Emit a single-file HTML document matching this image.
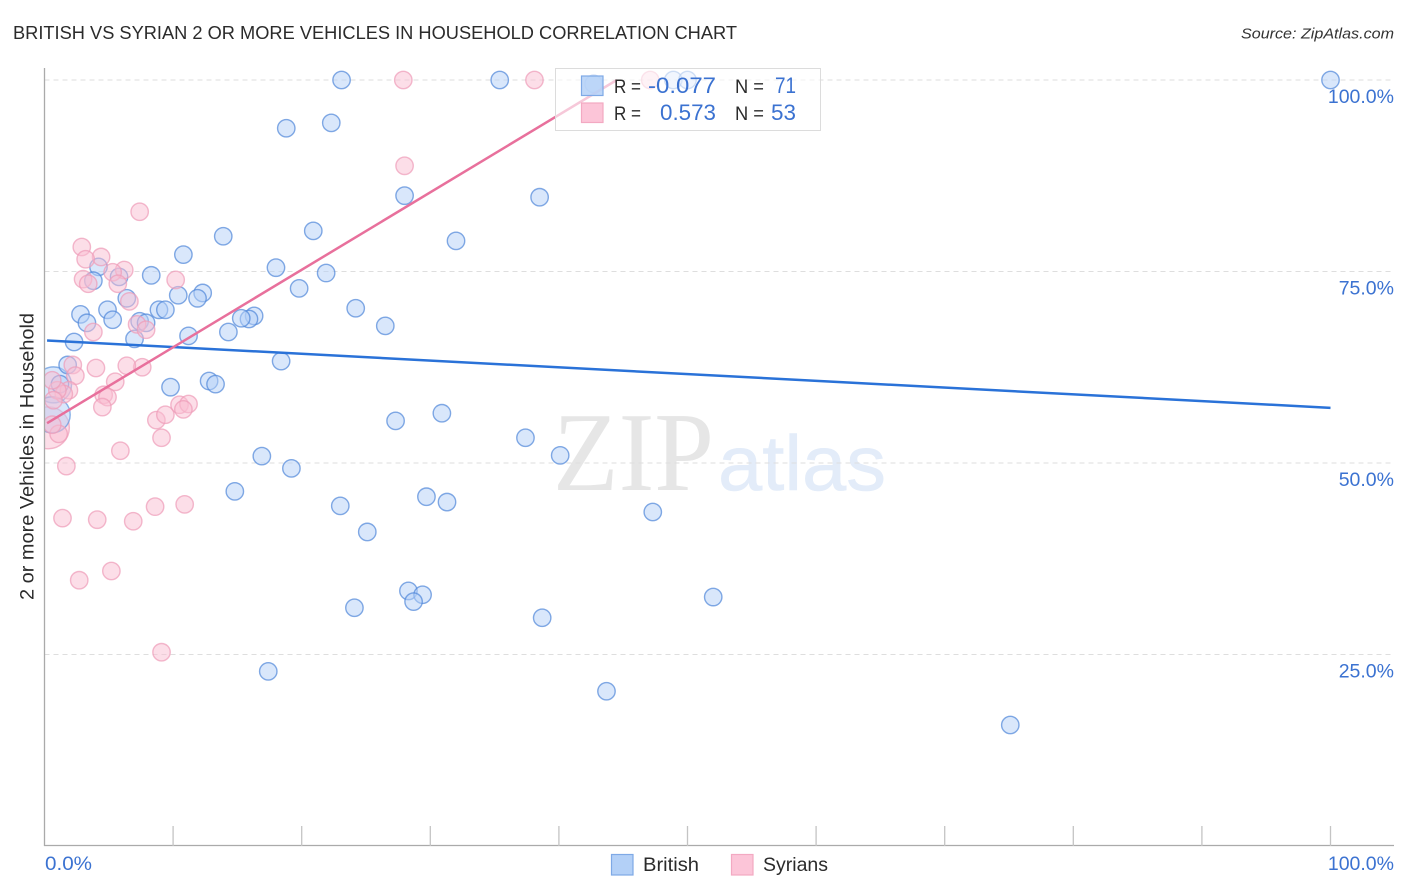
<!DOCTYPE html>
<html>
<head>
<meta charset="utf-8">
<title>British vs Syrian 2 or more vehicles in household correlation chart</title>
<style>
html,body{margin:0;padding:0;background:#fff;}
svg{display:block;}
text{font-family:"Liberation Sans",sans-serif;}
</style>
</head>
<body>
<svg id="chart" width="1406" height="892" viewBox="0 0 1406 892" xmlns="http://www.w3.org/2000/svg">
  <defs>
    <clipPath id="plot-clip"><rect x="44.5" y="60" width="1350" height="786"></rect></clipPath>
  </defs>
  <text x="13" y="39" font-size="18.5" fill="#2b2b2b" textLength="724" lengthAdjust="spacingAndGlyphs">BRITISH VS SYRIAN 2 OR MORE VEHICLES IN HOUSEHOLD CORRELATION CHART</text>
  <text x="1241" y="38.5" font-size="15" font-style="italic" fill="#333" textLength="153" lengthAdjust="spacingAndGlyphs">Source: ZipAtlas.com</text>
  <g>
    <text x="553" y="490" font-size="112" style="font-family:'Liberation Serif',serif" fill="#e6e6e6" textLength="161" lengthAdjust="spacingAndGlyphs">ZIP</text>
    <text x="718" y="490" font-size="78" fill="#e3ecf9" stroke="#e3ecf9" stroke-width="0.6" textLength="168" lengthAdjust="spacingAndGlyphs">atlas</text>
  </g>
  <g id="grid"></g>
  <g id="points" clip-path="url(#plot-clip)"></g>
  <g id="trends"></g>
  <g id="axes"></g>
  <text transform="translate(33.5,456.5) rotate(-90)" text-anchor="middle" font-size="19" fill="#2b2b2b" textLength="287" lengthAdjust="spacingAndGlyphs">2 or more Vehicles in Household</text>

  <g>
    <rect x="555.5" y="68.5" width="265" height="62" fill="#fff" fill-opacity="0.62" stroke="#dcdcdc"></rect>
    <rect x="581.5" y="76" width="21.5" height="19.5" fill="#b3d0f7" fill-opacity="0.85" stroke="#7ea9e6" stroke-width="1.2"></rect>
    <rect x="581.5" y="103" width="21.5" height="19.5" fill="#fcc5d8" stroke="#f3a9c2" stroke-width="1.2"></rect>
    <text x="614" y="93" font-size="19" fill="#2b2b2b" textLength="27" lengthAdjust="spacingAndGlyphs">R =</text>
    <text x="648" y="93" font-size="22" fill="#3b72d1" textLength="68" lengthAdjust="spacingAndGlyphs">-0.077</text>
    <text x="735" y="93" font-size="19" fill="#2b2b2b" textLength="29" lengthAdjust="spacingAndGlyphs">N =</text>
    <text x="775" y="93" font-size="22" fill="#3b72d1" textLength="21" lengthAdjust="spacingAndGlyphs">71</text>
    <text x="614" y="120" font-size="19" fill="#2b2b2b" textLength="27" lengthAdjust="spacingAndGlyphs">R =</text>
    <text x="660" y="120" font-size="22" fill="#3b72d1" textLength="56" lengthAdjust="spacingAndGlyphs">0.573</text>
    <text x="735" y="120" font-size="19" fill="#2b2b2b" textLength="29" lengthAdjust="spacingAndGlyphs">N =</text>
    <text x="771" y="120" font-size="22" fill="#3b72d1" textLength="25" lengthAdjust="spacingAndGlyphs">53</text>
  </g>

  <g>
    <rect x="611.5" y="854.5" width="21.5" height="20.5" fill="#b3d0f7" stroke="#7ea9e6" stroke-width="1.2"></rect>
    <text x="643" y="871" font-size="19.5" fill="#2b2b2b" textLength="56" lengthAdjust="spacingAndGlyphs">British</text>
    <rect x="731.5" y="854.5" width="21.5" height="20.5" fill="#fcc5d8" stroke="#f3a9c2" stroke-width="1.2"></rect>
    <text x="763" y="871" font-size="19.5" fill="#2b2b2b" textLength="65" lengthAdjust="spacingAndGlyphs">Syrians</text>
  </g>
</svg>
<script>
const xTickValues = [0, 10, 20, 30, 40, 50, 60, 70, 80, 90, 100];
const yGridValues = [25, 50, 75, 100];
const yTickLabels = ['25.0%', '50.0%', '75.0%', '100.0%'];
const xEndLabels = ['0.0%', '100.0%'];

const britishX = [23.1,35.4,42.7,48.9,50.0,100,18.8,22.3,28.0,38.5,32.0,13.9,20.9,10.8,18.0,21.9,4.2,8.3,5.8,3.8,19.8,10.4,12.3,11.9,6.4,2.8,4.9,5.3,3.3,8.9,9.4,24.2,26.5,16.3,15.9,15.3,14.3,11.2,7.4,7.9,7.0,2.3,1.8,18.4,9.8,12.8,13.3,1.2,27.3,30.9,37.4,40.1,16.9,19.2,14.8,23.0,29.7,31.3,25.1,47.3,28.3,29.4,28.7,24.1,52.0,38.7,17.4,43.7,75.1];
const britishY = [100,100,99.5,100,100,100,93.7,94.4,84.9,84.7,79.0,79.6,80.3,77.2,75.5,74.8,75.6,74.5,74.3,73.8,72.8,71.9,72.2,71.5,71.5,69.4,70.0,68.7,68.3,70.0,70.0,70.2,67.9,69.2,68.8,68.9,67.1,66.6,68.5,68.3,66.2,65.8,62.8,63.3,59.9,60.7,60.3,60.3,55.5,56.5,53.3,51.0,50.9,49.3,46.3,44.4,45.6,44.9,41.0,43.6,33.3,32.8,31.9,31.1,32.5,29.8,22.8,20.2,15.8];
const britishHeavyX = [0.7, 0.6];
const britishHeavyY = [60.2, 56.3];

const syrianX = [27.9,38.1,47.1,28.0,7.4,2.9,4.4,3.2,3.0,3.4,6.2,5.3,5.7,6.6,3.8,10.2,7.2,7.9,7.6,6.4,4.0,2.2,2.4,5.5,4.6,4.9,1.9,1.5,1.0,0.6,0.7,4.5,8.7,9.4,10.5,11.2,10.8,9.1,5.9,1.1,0.6,1.7,1.4,4.1,6.9,8.6,10.9,2.7,5.2,9.1];
const syrianY = [100,100,100,88.8,82.8,78.2,76.9,76.6,74.0,73.4,75.2,74.9,73.4,71.1,67.1,73.9,68.1,67.4,62.5,62.7,62.4,62.8,61.4,60.6,58.9,58.6,59.5,59.0,59.5,60.8,58.2,57.3,55.6,56.3,57.6,57.7,57.0,53.3,51.6,53.8,55.0,49.6,42.8,42.6,42.4,44.3,44.6,34.7,35.9,25.3];
const syrianHeavyX = [0.3];
const syrianHeavyY = [54.6];

const britishTrendX = [0.2, 100];
const britishTrendY = [66.0, 57.2];
const syrianTrendX = [0.2, 44.5];
const syrianTrendY = [55.2, 100];

const SVG_NS = 'http://www.w3.org/2000/svg';
function xScale(v) { return 44.5 + v * 12.86; }
function yScale(v) { return 846 - v * 7.66; }
function make(tag, attrs, parent) {
  const el = document.createElementNS(SVG_NS, tag);
  for (const k in attrs) el.setAttribute(k, attrs[k]);
  parent.appendChild(el);
  return el;
}

const gridG = document.getElementById('grid');
const axesG = document.getElementById('axes');
const pointsG = document.getElementById('points');
const trendsG = document.getElementById('trends');

yGridValues.forEach(function (v, i) {
  const line = make('line', {x1: 44.5, x2: 1394, y1: yScale(v), y2: yScale(v), stroke: '#dedede', 'stroke-width': 1, 'stroke-dasharray': '5 4'}, gridG);
  
  
  const label = make('text', {x: 1394, y: yScale(v) + 23, 'text-anchor': 'end', 'font-size': 19.5, fill: '#3b72d1'}, axesG);
  
  
  label.textContent = yTickLabels[i];
});

const yAxisLine = make('line', {x1: 44.5, x2: 44.5, y1: 68, y2: 846, stroke: '#aaaaaa', 'stroke-width': 1.3}, axesG);


const xAxisLine = make('line', {x1: 44, x2: 1394, y1: 845.5, y2: 845.5, stroke: '#aaaaaa', 'stroke-width': 1.3}, axesG);



xTickValues.slice(1).forEach(function (v) {
  const tick = make('line', {x1: xScale(v), x2: xScale(v), y1: 826, y2: 846, stroke: '#c4c4c4', 'stroke-width': 1.3}, axesG);
  
  
});

const xLabelLeft = make('text', {x: 45, y: 870, 'font-size': 19.5, fill: '#3b72d1', textLength: 47, lengthAdjust: 'spacingAndGlyphs'}, axesG);


xLabelLeft.textContent = xEndLabels[0];
const xLabelRight = make('text', {x: 1394, y: 870, 'text-anchor': 'end', 'font-size': 19.5, fill: '#3b72d1'}, axesG);


xLabelRight.textContent = xEndLabels[1];

function drawPoint(x, y, r, fill, stroke, name) {
  const c = make('circle', {cx: xScale(x), cy: yScale(y), r: r, fill: fill, 'fill-opacity': 0.5, stroke: stroke, 'stroke-opacity': 0.7, 'stroke-width': 1.4}, pointsG);
  
  
}
syrianHeavyX.forEach(function (x, i) { drawPoint(x, syrianHeavyY[i], 21, '#f9bdd2', '#ee9bb8', 'syrian-point'); });
britishHeavyX.forEach(function (x, i) { drawPoint(x, britishHeavyY[i], 18, '#b3d0f7', '#5f95de', 'british-point'); });
britishX.forEach(function (x, i) { drawPoint(x, britishY[i], 8.7, '#b3d0f7', '#4f86d8', 'british-point'); });
syrianX.forEach(function (x, i) { drawPoint(x, syrianY[i], 8.7, '#f9bdd2', '#ee9bb8', 'syrian-point'); });

const britishTrend = make('line', {x1: xScale(britishTrendX[0]), y1: yScale(britishTrendY[0]), x2: xScale(britishTrendX[1]), y2: yScale(britishTrendY[1]), stroke: '#2a72d8', 'stroke-width': 2.5}, trendsG);


const syrianTrend = make('line', {x1: xScale(syrianTrendX[0]), y1: yScale(syrianTrendY[0]), x2: xScale(syrianTrendX[1]), y2: yScale(syrianTrendY[1]), stroke: '#e8709c', 'stroke-width': 2.5}, trendsG);


</script>
</body>
</html>
